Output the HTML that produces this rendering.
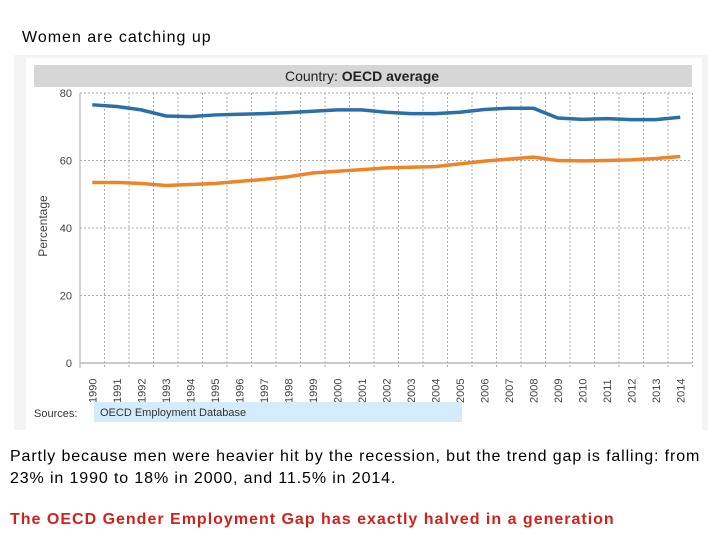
<!DOCTYPE html>
<html><head><meta charset="utf-8"><style>
body{margin:0;width:720px;height:540px;background:#fff;font-family:"Liberation Sans",sans-serif;position:relative;overflow:hidden}
.t{position:absolute;white-space:nowrap;letter-spacing:1px}
</style></head><body>
<div class="t" style="left:22px;top:29px;font-size:16px;color:#000">Women are catching up</div>
<div style="position:absolute;left:14px;top:55px;width:694px;height:375px;background:#f4f4f4"></div>
<div style="position:absolute;left:26px;top:58px;width:676px;height:372px;background:#fff"></div>
<svg width="720" height="540" style="position:absolute;left:0;top:0">
<rect x="34" y="65" width="658" height="22" fill="#d6d6d6"/>
<text x="362" y="81" text-anchor="middle" font-size="14" fill="#222">Country: <tspan font-weight="bold">OECD average</tspan></text>
<g id="grid"></g><g id="axes"></g><g id="lines"></g>
<text transform="translate(47,226) rotate(-90)" text-anchor="middle" font-size="12" fill="#444">Percentage</text>
<text x="34" y="417" font-size="11" fill="#333">Sources:</text>
<rect x="94" y="402" width="368" height="20" fill="#d4ebfb"/>
<text x="100" y="416" font-size="11" fill="#333">OECD Employment Database</text>
</svg>
<div class="t" style="left:10px;top:446px;font-size:16px;line-height:22px;color:#000;white-space:normal;width:705px;letter-spacing:0.88px">Partly because men were heavier hit by the recession, but the trend gap is falling: from 23% in 1990 to 18% in 2000, and 11.5% in 2014.</div>
<div class="t" style="left:10px;top:511px;font-size:16px;font-weight:bold;color:#d0221c">The OECD Gender Employment Gap has exactly halved in a generation</div>
<script>
const years=[1990,1991,1992,1993,1994,1995,1996,1997,1998,1999,2000,2001,2002,2003,2004,2005,2006,2007,2008,2009,2010,2011,2012,2013,2014];
const men=[76.5,76,75,73.2,73,73.5,73.7,73.9,74.2,74.6,75,75,74.3,73.9,73.9,74.3,75.1,75.5,75.5,72.6,72.2,72.4,72.1,72.1,72.8];
const women=[53.5,53.5,53.2,52.6,52.9,53.2,53.8,54.4,55.2,56.3,56.8,57.3,57.8,58.0,58.2,59.0,59.8,60.4,61.0,60.0,59.9,60.0,60.2,60.6,61.2];
const yTicks=[0,20,40,60,80];
const NS='http://www.w3.org/2000/svg';
const x0=80,bw=24.5,yTop=93,yBot=363;
const X=i=>x0+bw*(i+0.5);
const Y=v=>yBot-(v/80)*(yBot-yTop);
function mk(p,tag,a){const e=document.createElementNS(NS,tag);for(const k in a)e.setAttribute(k,a[k]);document.getElementById(p).appendChild(e);return e;}
yTicks.forEach(v=>{
 const l=mk('grid','line',{x1:x0,x2:692,y1:Y(v),y2:Y(v),stroke:v?'#aaa':'#999','stroke-dasharray':v?'2,2':'none'});
 
 
 const t=mk('axes','text',{x:72,y:Y(v)+4,'text-anchor':'end','font-size':11,fill:'#444'});
 t.textContent=v;
 
 
});
for(let i=0;i<=years.length;i++){
 const l=mk('grid','line',{x1:x0+bw*i,x2:x0+bw*i,y1:yTop,y2:yBot+5,stroke:'#aaa','stroke-dasharray':i?'2,2':'none'});
 
 
}
years.forEach((yr,i)=>{
 const t=mk('axes','text',{transform:`translate(${X(i)+4},${yBot+40}) rotate(-90)`,'font-size':11,fill:'#444'});
 t.textContent=yr;
 
 
});
function series(d,c,n){
 const p=mk('lines','path',{d:d.map((v,i)=>(i?'L':'M')+X(i)+','+Y(v)).join(''),fill:'none',stroke:c,'stroke-width':3.5,'stroke-linejoin':'round'});
 
 
}
series(men,'#2b6fa8','men-line');
series(women,'#ef8427','women-line');
</script>
</body></html>
